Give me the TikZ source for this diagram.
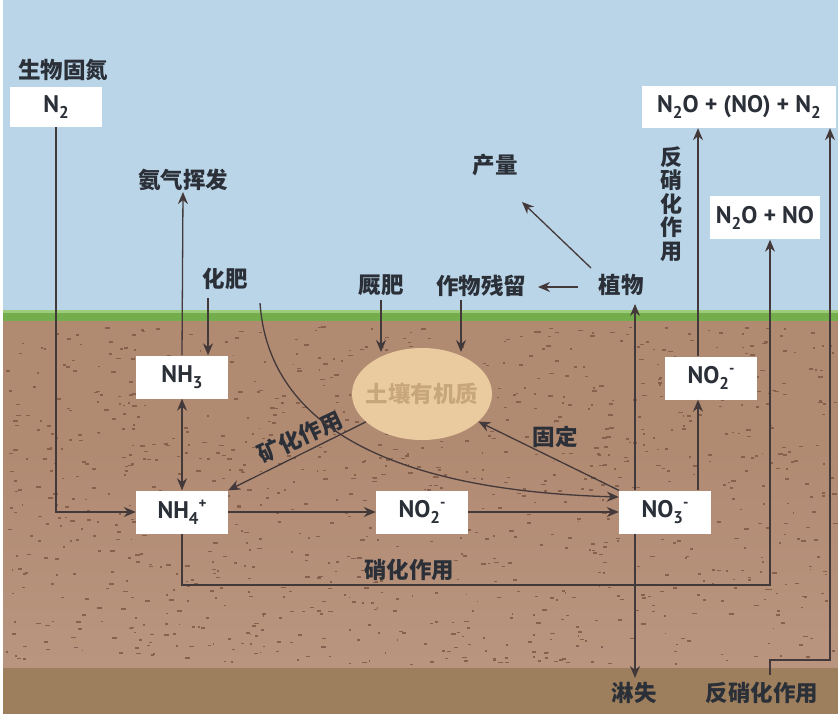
\documentclass[tikz,border=0pt]{standalone}
\usepackage{fontspec}
\setmainfont{PT Sans}
\newfontfamily\cjk{Noto Sans CJK SC}
\usetikzlibrary{arrows.meta,shapes.geometric}
\definecolor{sky}{HTML}{BAD5E7}
\definecolor{soil}{HTML}{B18A72}
\definecolor{soillow}{HTML}{B9957F}
\definecolor{bedrock}{HTML}{9D7F5D}
\definecolor{grass}{HTML}{74AE4C}
\definecolor{grasslight}{HTML}{9CCB7A}
\definecolor{ink}{HTML}{2B3038}
\definecolor{linecol}{HTML}{43393A}
\definecolor{speck}{HTML}{86624E}
\definecolor{omfill}{HTML}{EACB9F}
\definecolor{omtext}{HTML}{C8A67C}
\newcommand\mysub[1]{\raisebox{-6pt}{\fontsize{17}{17}\selectfont #1}}
\newcommand\mysup[1]{\raisebox{10pt}{\fontsize{15}{15}\selectfont #1}}
\tikzset{
  box/.style={fill=white, inner sep=0pt, minimum width=92pt, minimum height=43pt,
    font=\bfseries\fontsize{24}{26}\selectfont, text=ink},
  lab/.style={font=\cjk\bfseries\fontsize{22.5}{25}\selectfont, text=ink, inner sep=1pt},
  flow/.style={draw=linecol, line width=1.3pt, -{Stealth[length=12pt,width=10pt]}},
}
\begin{document}
\begin{tikzpicture}[x=1pt,y=-1pt]
\useasboundingbox (0,0) rectangle (838,714);
% background
\fill[white] (0,0) rectangle (838,714);
\fill[sky] (3,0) rectangle (838,316);
\fill[soil] (3,316) rectangle (838,450);
\shade[top color=soil, bottom color=soillow] (3,450) rectangle (838,668);
\fill[bedrock] (3,668) rectangle (838,714);
\fill[grass] (3,311) rectangle (838,321);
\fill[grasslight] (3,310) rectangle (838,313);
% soil specks
\pgfmathsetseed{7}
\foreach \i in {1,...,1100}{
  \pgfmathsetmacro\sx{6+rnd*828}
  \pgfmathsetmacro\sy{326+rnd*338}
  \pgfmathsetmacro\sw{1.5+rnd*3.5}
  \fill[speck] (\sx,\sy) rectangle ++(\sw,1.6);
}
% organic matter
\node[ellipse, fill=omfill, minimum width=140pt, minimum height=92pt, inner sep=0pt] (om) at (422,394) {};
\node[lab, text=omtext] (omlab) at (om.center) {土壤有机质};
% boxes
\node[box, minimum width=92pt, minimum height=40pt] (n2) at (56,107) {N\mysub{2}};
\node[box, minimum width=194pt, minimum height=42pt] (den) at (739,107) {N\mysub{2}O + (NO) + N\mysub{2}};
\node[box, minimum width=110pt, minimum height=43pt] (nno) at (765,218) {N\mysub{2}O + NO};
\node[box] (nh3) at (182,377) {NH\mysub{3}};
\node[box] (no2r) at (711,378) {NO\mysub{2}\mysup{-}};
\node[box] (nh4) at (182,512) {NH\mysub{4}\mysup{+}};
\node[box] (no2) at (422,512) {NO\mysub{2}\mysup{-}};
\node[box] (no3) at (665,512) {NO\mysub{3}\mysup{-}};
% labels
\node[lab, anchor=west] (bnf) at (17,70) {生物固氮};
\node[lab] (nh3v) at (183,180) {氨气挥发};
\node[lab] (fert) at (225,279) {化肥};
\node[lab] (manure) at (381,285) {厩肥};
\node[lab] (resid) at (481,286) {作物残留};
\node[lab] (plant) at (621,285) {植物};
\node[lab] (yield) at (495,165) {产量};
\node[lab, align=center, font=\cjk\bfseries\fontsize{22}{23.5}\selectfont] (denv) at (671,204) {反\\硝\\化\\作\\用};
\node[lab, rotate=25] (mine) at (300,437) {矿化作用};
\node[lab] (fix) at (555,437) {固定};
\node[lab] (nitr) at (409,570) {硝化作用};
\node[lab] (leach) at (634,693) {淋失};
\node[lab] (denb) at (762,693) {反硝化作用};
% helper coordinates
\coordinate (f1) at (208,298);
\coordinate (f2) at (260,303);
\coordinate (m0) at (381,300);
\coordinate (m1) at (381,352);
\coordinate (r0) at (461,300);
\coordinate (r1) at (461,352);
\coordinate (p0) at (578,287);
\coordinate (p1) at (538,287);
\coordinate (y0) at (591,268);
\coordinate (y1) at (522,202);
\coordinate (lx) at (635,0);
\coordinate (lup) at (635,304);
\coordinate (ldn) at (635,678);
\coordinate (rx) at (698,0);
\coordinate (c1) at (770,585);
\coordinate (d0) at (770,675);
\coordinate (d1) at (830,660);
% connectors
\draw[flow] (n2.south) |- (nh4.west);
\draw[flow] (nh3.north) -- (nh3v.south);
\draw[flow] (f1) -- (f1 |- nh3.north);
\draw[flow, {Stealth[length=12pt,width=10pt]}-{Stealth[length=12pt,width=10pt]}] (nh3.south) -- (nh4.north);
\draw[flow] (om) -- (nh4.north east);
\draw[flow] (f2) .. controls (268,420) and (380,490) .. ([yshift=15pt]no3.west);
\draw[flow] (no3.north west) -- (om);
\draw[flow] (nh4.east) -- (no2.west);
\draw[flow] (no2.east) -- (no3.west);
\draw[flow] (no3.north -| lx) -- (lup);
\draw[flow] (no3.south -| lx) -- (ldn);
\draw[flow] (no3.north -| rx) -- (no2r.south -| rx);
\draw[flow] (no2r.north -| rx) -- (den.south -| rx);
\draw[flow] (nh4.south) |- (c1) -- (c1 |- nno.south);
\draw[flow] (d0) |- (d1) -- (d1 |- den.south);
\draw[flow] (p0) -- (p1);
\draw[flow] (y0) -- (y1);
\draw[flow] (m0) -- (m1);
\draw[flow] (r0) -- (r1);
\end{tikzpicture}
\end{document}
